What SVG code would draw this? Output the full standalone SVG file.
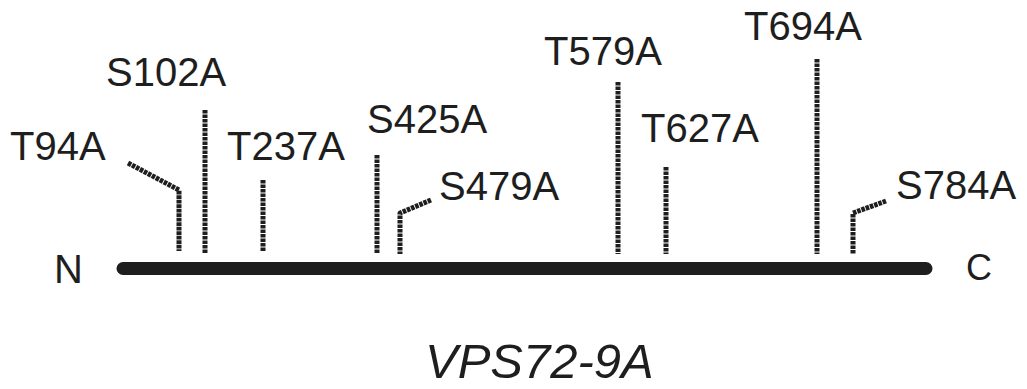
<svg xmlns="http://www.w3.org/2000/svg" width="1027" height="389" viewBox="0 0 1027 389">
<style>
text{font-family:"Liberation Sans",Arial,sans-serif;font-size:40px;fill:#1e1e1e}
.site{fill:none;stroke:#1e1e1e;stroke-width:5;stroke-dasharray:3.6 0.9;stroke-linejoin:round}
.bar{stroke:#1e1e1e;stroke-width:13;stroke-linecap:round}
</style>
<rect width="1027" height="389" fill="#fff"/>
<g id="protein">
<line class="bar" x1="123" y1="268.5" x2="926" y2="268.5"/>
<text x="54" y="283">N</text>
<text x="966" y="280" style="font-size:36px">C</text>
</g>
<g id="connectors">
<polyline class="site" points="128,163 179,190 179,251"/>
<line class="site" x1="205" y1="110" x2="205" y2="254"/>
<line class="site" x1="263" y1="180" x2="263" y2="251"/>
<line class="site" x1="377" y1="155" x2="377" y2="254"/>
<polyline class="site" points="431,200 400,213 400,254"/>
<line class="site" x1="618" y1="82" x2="618" y2="254"/>
<line class="site" x1="666" y1="167" x2="666" y2="254"/>
<line class="site" x1="817" y1="59" x2="817" y2="254"/>
<polyline class="site" points="886,201 853,213 853,254"/>
</g>
<g id="T94A"><text x="10" y="160">T94A</text></g>
<g id="S102A"><text x="106" y="86">S102A</text></g>
<g id="T237A"><text x="227" y="160">T237A</text></g>
<g id="S425A"><text x="367" y="133">S425A</text></g>
<g id="S479A"><text x="439" y="200">S479A</text></g>
<g id="T579A"><text x="544" y="65">T579A</text></g>
<g id="T627A"><text x="641" y="142">T627A</text></g>
<g id="T694A"><text x="744" y="40">T694A</text></g>
<g id="S784A"><text x="896" y="199">S784A</text></g>
<g id="title"><text x="425" y="378" style="font-size:49px;font-style:italic">VPS72-9A</text></g>
</svg>
